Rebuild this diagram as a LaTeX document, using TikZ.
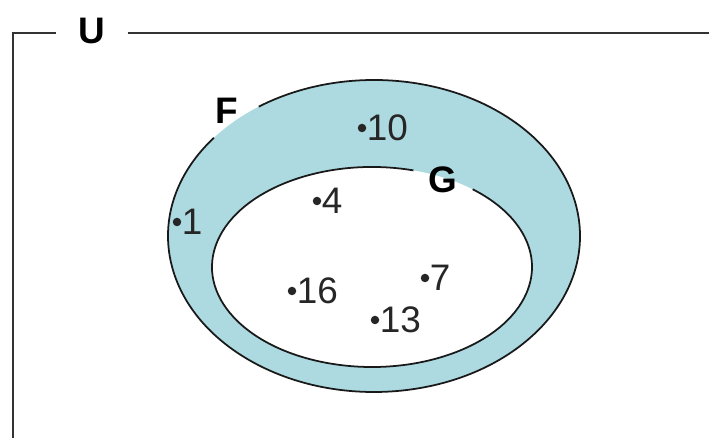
\documentclass[tikz,border=0pt]{standalone}
\usepackage{fontspec}
\setmainfont{Liberation Sans}
\definecolor{ringblue}{RGB}{172,218,224}
\tikzset{
  frame/.style={line width=1.5pt, draw=black!80},
  setline/.style={line width=1pt, draw=black!90},
  ringfill/.style={fill=ringblue, even odd rule},
  setlabel/.style={font=\fontsize{21}{24}\selectfont\bfseries, inner sep=0pt},
  elem/.style={circle, fill=black!85, inner sep=0pt, minimum size=0.17cm,
    label distance=0.15cm},
  elemtext/.style={font=\fontsize{21}{24}\selectfont, inner sep=0pt, text=black!85},
}

\begin{document}
\begin{tikzpicture}
\useasboundingbox (0,0) rectangle (14.18,8.76);
% universe frame
\node[setlabel, inner xsep=0.44cm] (U) at (1.84,8.14) {U};
\coordinate (ubot) at (0.26,0);
\coordinate (uright) at (14.18,8.10);
\draw[frame] (ubot) -- (0.26,8.10) -- (U.west |- uright);
\draw[frame] (U.east |- uright) -- (uright);
% ring between F and G
\fill[ringfill] (7.48,4.04) ellipse (4.12 and 3.12) (7.44,3.42) ellipse (3.20 and 2.00);
\draw[setline] (7.48,4.04) ++(141:4.12 and 3.12)
  arc[start angle=141, end angle=484, x radius=4.12, y radius=3.12];
\draw[setline] (7.44,3.42) ++(75:3.20 and 2.00)
  arc[start angle=75, end angle=411, x radius=3.20, y radius=2.00];
\node[setlabel] (F) at (4.54,6.54) {F};
\node[setlabel] (G) at (8.86,5.17) {G};
% elements
\node[elem, label={[elemtext]right:1}] (e1) at (3.54,4.32) {};
\node[elem, label={[elemtext]right:10}] (e10) at (7.24,6.20) {};
\node[elem, label={[elemtext]right:4}] (e4) at (6.34,4.74) {};
\node[elem, label={[elemtext]right:16}] (e16) at (5.84,2.94) {};
\node[elem, label={[elemtext]right:7}] (e7) at (8.50,3.20) {};
\node[elem, label={[elemtext]right:13}] (e13) at (7.50,2.36) {};
\end{tikzpicture}
\end{document}
